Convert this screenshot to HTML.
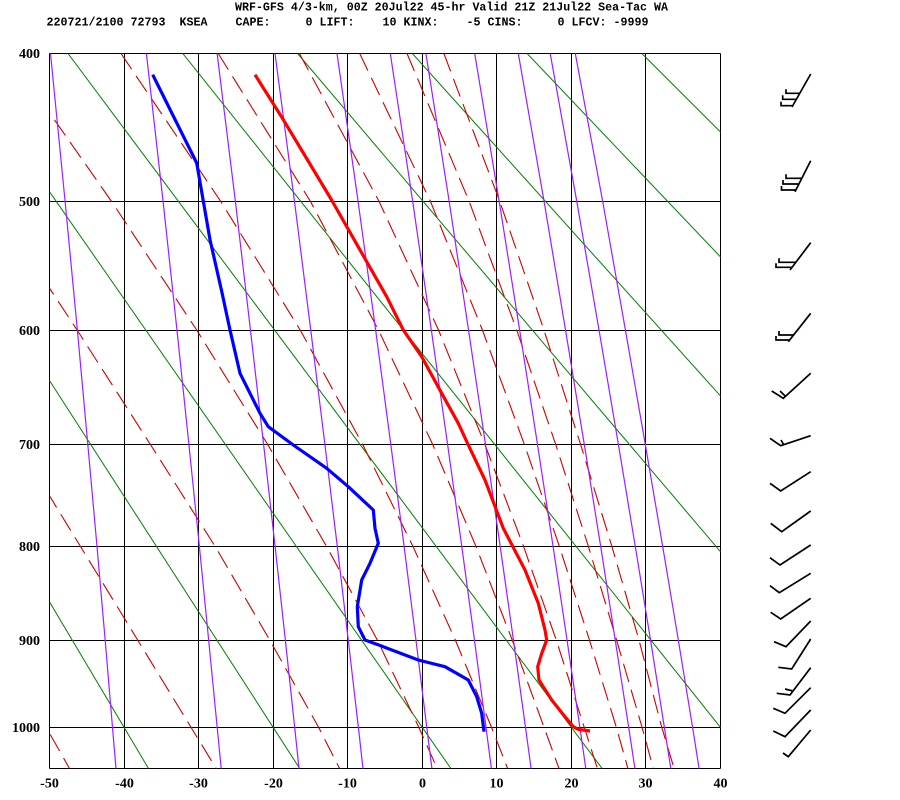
<!DOCTYPE html>
<html>
<head>
<meta charset="utf-8">
<style>
html,body{margin:0;padding:0;background:#fff;}
svg{display:block;}
</style>
</head>
<body>
<svg width="900" height="800" viewBox="0 0 900 800" xmlns="http://www.w3.org/2000/svg">
<rect x="0" y="0" width="900" height="800" fill="#ffffff"/>
<defs>
<clipPath id="plot"><rect x="49.5" y="53.5" width="671" height="715"/></clipPath>
</defs>

<!-- Title -->
<g font-family="'Liberation Mono', monospace" font-weight="bold" font-size="12" fill="#000">
<text x="235" y="10.5" textLength="433" lengthAdjust="spacingAndGlyphs" xml:space="preserve">WRF-GFS 4/3-km, 00Z 20Jul22 45-hr Valid 21Z 21Jul22 Sea-Tac WA</text>
<text x="46.5" y="25.5" textLength="602" lengthAdjust="spacingAndGlyphs" xml:space="preserve">220721/2100 72793  KSEA    CAPE:     0 LIFT:    10 KINX:    -5 CINS:     0 LFCV: -9999</text>
</g>

<!-- Grid -->
<g stroke="#000" stroke-width="1" shape-rendering="crispEdges" fill="none">
<line x1="49.5" y1="53.5" x2="49.5" y2="768.5"/>
<line x1="124.5" y1="53.5" x2="124.5" y2="768.5"/>
<line x1="198.5" y1="53.5" x2="198.5" y2="768.5"/>
<line x1="273.5" y1="53.5" x2="273.5" y2="768.5"/>
<line x1="347.5" y1="53.5" x2="347.5" y2="768.5"/>
<line x1="422.5" y1="53.5" x2="422.5" y2="768.5"/>
<line x1="496.5" y1="53.5" x2="496.5" y2="768.5"/>
<line x1="571.5" y1="53.5" x2="571.5" y2="768.5"/>
<line x1="645.5" y1="53.5" x2="645.5" y2="768.5"/>
<line x1="720.5" y1="53.5" x2="720.5" y2="768.5"/>
<line x1="49.5" y1="53.5" x2="720.5" y2="53.5"/>
<line x1="49.5" y1="201.5" x2="720.5" y2="201.5"/>
<line x1="49.5" y1="330.5" x2="720.5" y2="330.5"/>
<line x1="49.5" y1="444.5" x2="720.5" y2="444.5"/>
<line x1="49.5" y1="546.5" x2="720.5" y2="546.5"/>
<line x1="49.5" y1="640.5" x2="720.5" y2="640.5"/>
<line x1="49.5" y1="727.5" x2="720.5" y2="727.5"/>
<line x1="49.5" y1="768.5" x2="720.5" y2="768.5"/>
</g>

<g clip-path="url(#plot)" fill="none">
<!-- Dry adiabats -->
<g stroke="#008000" stroke-width="1">
<line x1="-276.3" y1="53.5" x2="148.5" y2="768.5"/>
<line x1="-161.5" y1="53.5" x2="299.7" y2="768.5"/>
<line x1="-46.7" y1="53.5" x2="450.9" y2="768.5"/>
<line x1="68.0" y1="53.5" x2="602.1" y2="768.5"/>
<line x1="182.8" y1="53.5" x2="753.3" y2="768.5"/>
<line x1="297.6" y1="53.5" x2="904.5" y2="768.5"/>
<line x1="412.4" y1="53.5" x2="1055.7" y2="768.5"/>
<line x1="527.1" y1="53.5" x2="1206.9" y2="768.5"/>
<line x1="641.9" y1="53.5" x2="1358.1" y2="768.5"/>
</g>

<!-- Moist adiabats -->
<g stroke="#cc0000" stroke-width="1.1" stroke-dasharray="19 8" stroke-linejoin="round">
<polyline points="-336.2,53.5 69.5,768.5"/>
<polyline points="-220.9,53.5 216.2,768.5"/>
<polyline points="-105.9,53.5 -7.6,201.5 77.4,330.5 150.4,444.5 215.2,546.5 270.0,640.5 318.7,727.5 339.6,768.5"/>
<polyline points="8.1,53.5 111.6,201.5 197.0,330.5 267.7,444.5 326.6,546.5 377.6,640.5 418.9,727.5 437.2,768.5"/>
<polyline points="121,53.5 220.8,201.5 300.5,330.5 362.7,444.5 413.0,546.5 455.5,640.5 491.6,727.5 507.6,768.5"/>
<polyline points="218.2,53.5 310.5,201.5 378.7,330.5 432.7,444.5 476.0,546.5 512.4,640.5 544.1,727.5 559.0,768.5"/>
<polyline points="299.4,53.5 379.1,201.5 438.7,330.5 484.9,444.5 523.6,546.5 556.4,640.5 584.3,727.5 597.4,768.5"/>
<polyline points="359.7,53.5 430.5,201.5 482.6,330.5 524.4,444.5 559.4,546.5 589.6,640.5 616.4,727.5 627.9,768.5"/>
<polyline points="407.0,53.5 469.2,201.5 516.9,330.5 555.7,444.5 588.4,546.5 616.7,640.5 642.1,727.5 653.3,768.5"/>
<polyline points="443.9,53.5 472.8,130 499.8,201.5 544.1,330.5 580.6,444.5 611.9,546.5 639.1,640.5 661.8,727.5 674.1,768.5"/>
</g>

<!-- Mixing ratio lines -->
<g stroke="#a020f0" stroke-width="1.2" stroke-linejoin="round">
<polyline points="50.5,53.5 65.1,201.5 77.4,330.5 87.8,444.5 97.0,546.5 105.2,640.5 112.5,727.5 116.0,768.5"/>
<polyline points="146.4,53.5 163.1,201.5 177.0,330.5 188.9,444.5 199.4,546.5 208.7,640.5 217.2,727.5 221.2,768.5"/>
<polyline points="217.1,53.5 235.4,201.5 250.5,330.5 263.6,444.5 275.1,546.5 285.4,640.5 294.7,727.5 299.0,768.5"/>
<polyline points="275.0,53.5 294.5,201.5 310.8,330.5 324.9,444.5 337.3,546.5 348.3,640.5 358.4,727.5 363.0,768.5"/>
<polyline points="337.0,53.5 358.1,201.5 375.7,330.5 390.8,444.5 404.1,546.5 416.0,640.5 426.8,727.5 431.9,768.5"/>
<polyline points="390.3,53.5 412.7,201.5 431.4,330.5 447.6,444.5 461.8,546.5 474.5,640.5 486.0,727.5 491.4,768.5"/>
<polyline points="425.9,53.5 449.2,201.5 468.6,330.5 485.5,444.5 500.2,546.5 513.5,640.5 525.5,727.5 531.1,768.5"/>
<polyline points="474.7,53.5 499.2,201.5 519.7,330.5 537.5,444.5 553.1,546.5 567.1,640.5 579.9,727.5 585.8,768.5"/>
<polyline points="518.3,53.5 544.1,201.5 565.6,330.5 584.3,444.5 600.7,546.5 615.3,640.5 628.7,727.5 634.9,768.5"/>
<polyline points="550.2,53.5 576.8,201.5 599.1,330.5 618.4,444.5 635.3,546.5 650.6,640.5 664.4,727.5 670.8,768.5"/>
<polyline points="575.3,53.5 602.7,201.5 625.5,330.5 645.3,444.5 662.7,546.5 678.4,640.5 692.6,727.5 699.1,768.5"/>
</g>

<!-- Temperature profile -->
<polyline stroke="#ff0000" stroke-width="3.2" stroke-linejoin="round" points="255,74.7 283.3,119.7 331,199 366.7,261.7 386.7,296.7 403.3,330 421.7,356.7 441.7,393.3 458.3,423.3 468.3,445 485,480 503.3,528.3 525,570 538.3,603.3 545,630 546.7,640 541.7,653.3 537.7,666.7 539,680 551.7,700 565,716.7 573.3,726.7 578.3,729.3 590,731"/>

<!-- Dewpoint profile -->
<polyline stroke="#0000ff" stroke-width="3.2" stroke-linejoin="round" points="152.7,74.7 196.7,163 210,239.7 221.7,291.3 230,330 240,373.3 260,413.3 268.3,426.7 293.3,445 326.7,468.3 348.3,486.7 373.3,510 375,528.3 378.3,543.3 370,563.3 361.7,580 357.3,606.7 358.3,626.7 365,640 383.3,646.7 418.3,660 445,666.7 468.3,680 476.7,696.7 481.7,713.3 484,731.7"/>
</g>

<!-- Axis labels -->
<g font-family="'Liberation Serif', serif" font-weight="bold" font-size="14" fill="#000">
<g text-anchor="end">
<text x="40" y="58">400</text>
<text x="40" y="206">500</text>
<text x="40" y="335">600</text>
<text x="40" y="449">700</text>
<text x="40" y="551">800</text>
<text x="40" y="645">900</text>
<text x="40" y="732">1000</text>
</g>
<g text-anchor="middle">
<text x="49.5" y="787.5">-50</text>
<text x="124.5" y="787.5">-40</text>
<text x="198.5" y="787.5">-30</text>
<text x="273.5" y="787.5">-20</text>
<text x="347.5" y="787.5">-10</text>
<text x="422.5" y="787.5">0</text>
<text x="496.5" y="787.5">10</text>
<text x="571.5" y="787.5">20</text>
<text x="645.5" y="787.5">30</text>
<text x="720.5" y="787.5">40</text>
</g>
</g>

<!-- Wind barbs -->
<g stroke="#000" stroke-width="1.7" fill="none" stroke-linejoin="miter">
<path d="M810.7,74 L792,107 M799.8,93.3 H786 V89.3 M796.4,99.3 H782.7 V95.3 M792.7,105.7 H781 V101.7"/>
<path d="M810.7,160.7 L795,191.7 M801.8,178.3 H786 V174.3 M798.9,184 H783 V180 M795.9,190 H781.5 V186"/>
<path d="M810.7,242.7 L790,270 M795.8,262.3 H779 V258.3 M792,267.3 H776 V263.3"/>
<path d="M810.7,313.3 L788.3,341.7 M793.6,335 H779 V331 M789.6,340 H776 V336"/>
<path d="M810.7,373.3 L783.3,398.3 L771.7,391 M785.5,396.3 L780,391"/>
<path d="M810.7,435.7 L780.7,445.7 L770,438.3 M783.7,444.7 L781,440"/>
<path d="M810.7,471.7 L780.7,491 L770,483.3"/>
<path d="M810.7,511 L781.7,531.7 L770.7,523.3"/>
<path d="M810.7,545 L780,565 L770,557.7"/>
<path d="M810.7,573.3 L779.3,592.7 L770,585.7"/>
<path d="M810.7,598.3 L780.7,619 L770.7,612.3"/>
<path d="M810.7,621 L786,646.7 L774,641.7"/>
<path d="M810.7,639 L791.7,669 L778.3,667.3"/>
<path d="M810.7,667.7 L790,695 L776.7,693.3 M793,691 L785,689"/>
<path d="M810.7,687.7 L785,713.3 L773.3,708.3"/>
<path d="M810.7,710 L785,736.7 L773.3,731"/>
<path d="M810.7,730 L788.3,756.7 L783,753"/>
</g>
</svg>
</body>
</html>
